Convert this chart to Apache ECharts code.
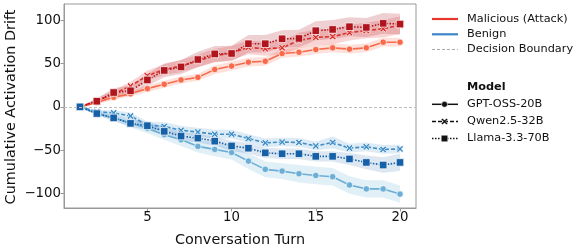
<!DOCTYPE html>
<html><head><meta charset="utf-8">
<script src="https://cdn.jsdelivr.net/npm/echarts@6/dist/echarts.min.js"></script>
<style>html,body{margin:0;padding:0;background:#fff}#c{width:583px;height:246px}</style>
</head><body><div id="c"></div>
<script>
const turns = [1,2,3,4,5,6,7,8,9,10,11,12,13,14,15,16,17,18,19,20];
const xTicks = [5,10,15,20];
const yTicks = [-100,-50,0,50,100];

const malGPT   = [0, 5, 11, 15, 21, 26, 31, 34, 43, 47, 51.5, 52.5, 61.5, 63, 66, 68, 66.5, 68, 74.5, 74.5];
const malQwen  = [0, 7, 15, 24, 36, 43, 47, 53, 59, 62, 68.5, 67, 68, 76.5, 80, 81, 85.5, 88, 90, 94];
const malLlama = [0, 6.5, 16.5, 18.5, 31, 42, 46, 54.5, 61, 61.5, 72.7, 72.7, 78.4, 78.8, 87.7, 89.2, 92.3, 91.5, 96.2, 95.4];
const benGPT   = [0, -8, -12.5, -18.5, -24.5, -32, -38, -45.5, -49, -52.5, -62.5, -72, -74, -77, -79, -80.5, -90, -94.5, -94.5, -100.5];
const benQwen  = [0, -5.5, -7, -10.5, -21, -22.5, -27, -29, -31.5, -31.5, -36.5, -41.5, -40.5, -41, -45, -41, -47.5, -46, -49, -48.5];
const benLlama = [0, -7.7, -12.7, -19, -21.7, -28.2, -33.6, -36, -39.5, -45, -47.6, -53, -54, -54, -57, -57, -60, -64, -67, -64];

// half-widths of the shaded confidence bands
const malGPTci   = [0, 2, 3, 3, 4, 4, 4, 4, 5, 5, 5, 5, 5, 5, 5, 5, 5, 5, 5, 5];
const malQwenci  = [0, 3, 4, 5, 6, 6, 7, 7, 8, 8, 8, 8, 8, 9, 9, 9, 9, 9, 10, 10];
const malLlamaci = [0, 3, 5, 6, 7, 8, 8, 9, 9, 9, 10, 10, 10, 10, 11, 11, 11, 11, 12, 12];
const benGPTci   = [0, 2, 4, 5, 6, 6, 7, 7, 8, 8, 9, 9, 9, 10, 10, 10, 10, 10, 10, 10];
const benQwenci  = [0, 2, 3, 4, 4, 5, 5, 5, 5, 5, 5, 5, 5, 5, 5, 7, 5, 5, 5, 5];
const benLlamaci = [0, 2, 3, 4, 5, 5, 5, 5, 5, 6, 6, 6, 6, 6, 6, 6, 7, 8, 9, 10];

const C = {
  malGPT:'#f96a4b', malQwen:'#dc2e2a', malLlama:'#b0141c',
  benGPT:'#6baed6', benQwen:'#3f8ec8', benLlama:'#1660a8'
};
const XSYM = 'path://M0,2 L2,0 L5,3 L8,0 L10,2 L7,5 L10,8 L8,10 L5,7 L2,10 L0,8 L3,5 Z';
const FONT = 'DejaVu Sans';

function hexA(h,a){const r=parseInt(h.slice(1,3),16),g=parseInt(h.slice(3,5),16),b=parseInt(h.slice(5,7),16);return `rgba(${r},${g},${b},${a})`;}

function band(y, ci, color, alpha){
  const data = turns.map((t,i)=>[t, y[i]-ci[i], y[i]+ci[i]]);
  return {
    type:'custom', silent:true, z:1,
    encode:{x:0, y:[1,2]},
    data,
    renderItem:(params, api)=>{
      if (params.dataIndex !== 0) return null;
      const up = data.map(d=>api.coord([d[0], d[2]]));
      const lo = data.map(d=>api.coord([d[0], d[1]])).reverse();
      return {type:'polygon', shape:{points: up.concat(lo)}, style:{fill: hexA(color, alpha), stroke:'none'}};
    }
  };
}
function line(y, color, type, symbol, size){
  return {
    type:'line', z:3, data: turns.map((t,i)=>[t,y[i]]),
    symbol, symbolSize:size, showSymbol:true,
    lineStyle:{color, width:1.6, type},
    itemStyle:{color, borderColor:'#fff', borderWidth:0.7},
    emphasis:{disabled:true}, animation:false
  };
}

const series = [
  band(malGPT, malGPTci, C.malGPT, 0.2),
  band(malQwen, malQwenci, C.malQwen, 0.2),
  band(malLlama, malLlamaci, C.malLlama, 0.2),
  band(benGPT, benGPTci, C.benGPT, 0.2),
  band(benQwen, benQwenci, C.benQwen, 0.18),
  band(benLlama, benLlamaci, C.benLlama, 0.15),
  {type:'line', data:[], markLine:{silent:true, symbol:'none', label:{show:false},
    lineStyle:{color:'#bdbdbd', type:[3,2], width:1}, data:[{yAxis:0}]}, z:2},
  line(malGPT, C.malGPT, 'solid', 'circle', 6.5),
  line(malQwen, C.malQwen, [4,2], XSYM, 7),
  line(malLlama, C.malLlama, [1.5,1.5], 'rect', 7.5),
  line(benGPT, C.benGPT, 'solid', 'circle', 6.5),
  line(benQwen, C.benQwen, [4,2], XSYM, 7),
  line(benLlama, C.benLlama, [1.5,1.5], 'rect', 7.5)
];

const lx0 = 432, lx1 = 458, tx = 467;
const legendFont = {fontFamily:FONT, fontSize:11.3, fill:'#111'};
function legLine(y, color, dash, w){
  return {type:'line', shape:{x1:lx0,y1:y,x2:lx1,y2:y}, style:{stroke:color, lineWidth:w, lineDash:dash}};
}
function legText(y, s, bold){
  return {type:'text', x:tx, y, style:Object.assign({text:s, verticalAlign:'middle', fontWeight: bold?'bold':'normal'}, legendFont)};
}
function xMark(cx, cy, s){
  const p = [[0,2],[2,0],[5,3],[8,0],[10,2],[7,5],[10,8],[8,10],[5,7],[2,10],[0,8],[3,5]].map(q=>[cx+(q[0]-5)*s, cy+(q[1]-5)*s]);
  return {type:'polygon', shape:{points:p}, style:{fill:'#111', stroke:'#fff', lineWidth:0.5}};
}
const mx = 444.5;
const graphic = [
  legLine(19, '#e8362c', null, 2.2), legText(19, 'Malicious (Attack)'),
  legLine(34.3, '#3a86c6', null, 2.2), legText(34.3, 'Benign'),
  legLine(49.5, '#aaaaaa', [3,2], 1), legText(49.5, 'Decision Boundary'),
  legText(87, 'Model', true),
  legLine(104.3, '#111', null, 1.5), {type:'circle', shape:{cx:mx, cy:104.3, r:3}, style:{fill:'#111', stroke:'#fff', lineWidth:0.6}}, legText(104.3, 'GPT-OSS-20B'),
  legLine(121.5, '#111', [4,2], 1.5), xMark(mx, 121.5, 0.66), legText(121.5, 'Qwen2.5-32B'),
  legLine(138.5, '#111', [1.5,1.5], 1.5), {type:'rect', shape:{x:mx-3.3, y:138.5-3.3, width:6.6, height:6.6}, style:{fill:'#111', stroke:'#fff', lineWidth:0.6}}, legText(138.5, 'Llama-3.3-70B'),
  {type:'text', x:240, y:240.5, style:{text:'Conversation Turn', fontFamily:FONT, fontSize:14.4, fill:'#111', align:'center', verticalAlign:'middle'}},
  {type:'text', x:11.5, y:107, rotation:Math.PI/2, style:{text:'Cumulative Activation Drift', fontFamily:FONT, fontSize:14.4, fill:'#111', align:'center', verticalAlign:'middle'}}
];

const chart = echarts.init(document.getElementById('c'), null, {renderer:'canvas'});
chart.setOption({
  animation:false,
  grid:{left:64, right:167, top:4, bottom:38, show:true, borderColor:'#999', borderWidth:1},
  xAxis:{type:'value', min:0.05, max:20.95,
    axisLine:{show:true, onZero:false, lineStyle:{color:'#999'}},
    axisTick:{show:true, length:3.5, customValues:xTicks, lineStyle:{color:'#999'}},
    axisLabel:{customValues:xTicks, color:'#111', fontFamily:FONT, fontSize:13.3, margin:3},
    splitLine:{show:false}},
  yAxis:{type:'value', min:-116.5, max:118.5,
    axisLine:{show:true, onZero:false, lineStyle:{color:'#999'}},
    axisTick:{show:true, length:3.5, customValues:yTicks, lineStyle:{color:'#999'}},
    axisLabel:{customValues:yTicks, color:'#111', fontFamily:FONT, fontSize:13.3, margin:3,
      formatter:v=> v<0 ? '\u2212'+Math.abs(v) : String(v)},
    splitLine:{show:false}},
  series, graphic
});
</script></body></html>
